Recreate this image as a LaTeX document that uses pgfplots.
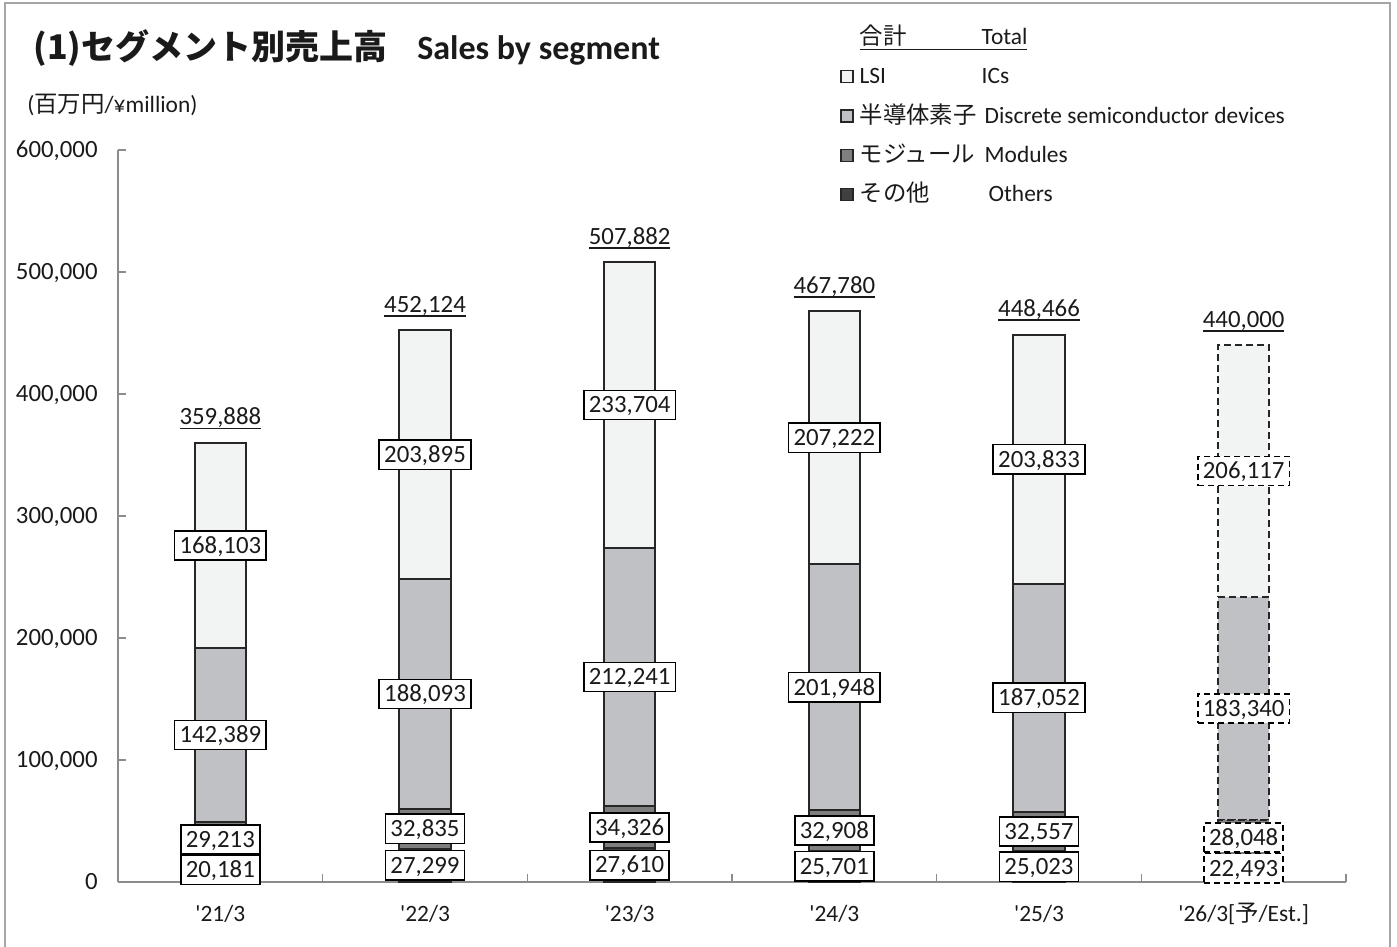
\documentclass[border=0pt]{standalone}
\usepackage{fontspec}
\setmainfont{Carlito}
\newfontfamily\jp{Noto Sans CJK JP}
\usepackage{pgfplots}
\usepackage{pgfplotstable}
\pgfplotsset{compat=1.18}

\definecolor{lsi}{HTML}{F2F3F3}
\definecolor{disc}{HTML}{C0C1C5}
\definecolor{modu}{HTML}{7F7F7F}
\definecolor{othr}{HTML}{404040}
\definecolor{edge}{HTML}{262626}
\definecolor{axisgray}{HTML}{8C8C8C}
\definecolor{framegray}{HTML}{A6A6A6}
\definecolor{txt}{HTML}{1A1A1A}

% values in million yen
\pgfplotstableread{
x others modules discrete lsi total
0 20181 29213 142389 168103 359888
1 27299 32835 188093 203895 452124
2 27610 34326 212241 233704 507882
3 25701 32908 201948 207222 467780
4 25023 32557 187052 203833 448466
}\actual
\pgfplotstableread{
x others modules discrete lsi total
5 22493 28048 183340 206117 440000
}\estimate

\newcommand{\q}{\textquotesingle}
\newcommand{\lab}{\fontsize{11.7}{14}\selectfont}
\newcommand{\num}{\fontsize{12.4}{14}\selectfont}
\newcommand{\ul}[1]{\setbox0\hbox{#1}\leavevmode\rlap{\rule[-2.2pt]{\wd0}{0.9pt}}\box0}

\pgfplotsset{
  frame/.style={
    scale only axis, width=614pt, height=366pt,
    xmin=-0.5, xmax=5.5, ymin=0, ymax=600000, clip=false,
  },
  stack/.style={ybar stacked, bar width=0.25},
  bars/.style={draw=edge, line width=1pt},
  est/.style={dash pattern=on 3.5pt off 2pt},
  seg/.style={
    draw=none, mark=none,
    point meta=explicit,
    nodes near coords={\pgfmathprintnumber[fixed,1000 sep={,},assume math mode=true]{\pgfplotspointmeta}},
    every node near coord/.style={anchor=center,
      fill=white, draw=black, line width=0.75pt,
      inner xsep=2.5pt, inner ysep=3.4pt, text height=7.8pt, text depth=0pt,
      font=\num, text=txt},
  },
  estseg/.style={seg,
    every node near coord/.append style={dash pattern=on 3pt off 2pt}},
  tot/.style={
    draw=none, mark=none,
    point meta=explicit,
    nodes near coords={\ul{\pgfmathprintnumber[fixed,1000 sep={,},assume math mode=true]{\pgfplotspointmeta}}},
    every node near coord/.style={anchor=base, inner sep=0pt, yshift=9pt,
      font=\num, text=txt},
  },
}

\begin{document}
\begin{tikzpicture}
\useasboundingbox (-59pt,-32.5pt) rectangle (639.5pt,441pt);

% main axis with solid bars
\begin{axis}[frame, stack,
  axis lines*=left,
  axis line style={axisgray, line width=0.75pt},
  tick align=inside,
  xtick={0,...,5},
  xticklabels={\q21/3, \q22/3, \q23/3, \q24/3, \q25/3, {\q26/3[{\jp 予}/Est.]}},
  minor xtick={-0.5,0.5,...,5.5},
  major x tick style={draw=none},
  minor x tick style={axisgray, line width=0.75pt},
  minor tick length=4pt,
  ytick={0,100000,200000,300000,400000,500000,600000},
  y tick style={axisgray, line width=0.75pt},
  major tick length=4pt,
  scaled y ticks=false,
  /pgf/number format/assume math mode=true,
  yticklabel style={/pgf/number format/fixed, /pgf/number format/1000 sep={,},
    font=\num, text=txt, anchor=base east, inner sep=0pt, xshift=-10pt, yshift=-3.9pt},
  xticklabel style={font=\lab, text=txt, anchor=base, inner sep=0pt, yshift=-19.75pt},
  legend style={at={(axis description cs:0.588,1.169)}, anchor=north west,
    draw=none, fill=none, inner sep=0pt, row sep=7.6pt, column sep=3pt,
    font=\lab, text=txt, nodes={inner sep=0pt, text height=9pt, text depth=3pt}},
  legend cell align=left,
  legend image code/.code={\draw[#1, draw=edge, line width=0.6pt] (0pt,-2.5pt) rectangle (6pt,3.5pt);},
]
\addplot[bars, fill=othr, forget plot] table[x=x, y=others]{\actual};
\addplot[bars, fill=modu, forget plot] table[x=x, y=modules]{\actual};
\addplot[bars, fill=disc, forget plot] table[x=x, y=discrete]{\actual};
\addplot[bars, fill=lsi, forget plot] table[x=x, y=lsi]{\actual};

\addlegendimage{empty legend}
\addlegendentry{\underline{\makebox[61pt][l]{\jp 合計}Total}}
\addlegendimage{fill=lsi}
\addlegendentry{\makebox[61pt][l]{LSI}ICs}
\addlegendimage{fill=disc}
\addlegendentry{\makebox[62.5pt][l]{\jp 半導体素子}Discrete semiconductor devices}
\addlegendimage{fill=modu}
\addlegendentry{\makebox[62.5pt][l]{\jp モジュール}Modules}
\addlegendimage{fill=othr}
\addlegendentry{\makebox[64.5pt][l]{\jp その他}Others}
\end{axis}

% estimate bar, dashed
\begin{axis}[frame, stack, hide axis]
\addplot[bars, est, fill=othr] table[x=x, y=others]{\estimate};
\addplot[bars, est, fill=modu] table[x=x, y=modules]{\estimate};
\addplot[bars, est, fill=disc] table[x=x, y=discrete]{\estimate};
\addplot[bars, est, fill=lsi] table[x=x, y=lsi]{\estimate};
\end{axis}

% value labels at the middle of each segment, totals on top
\begin{axis}[frame, hide axis]
\addplot[seg] table[x=x, y expr=\thisrow{others}/2, meta=others]{\actual};
\addplot[seg] table[x=x, y expr=\thisrow{others}+\thisrow{modules}/2, meta=modules]{\actual};
\addplot[seg] table[x=x, y expr=\thisrow{others}+\thisrow{modules}+\thisrow{discrete}/2, meta=discrete]{\actual};
\addplot[seg] table[x=x, y expr=\thisrow{others}+\thisrow{modules}+\thisrow{discrete}+\thisrow{lsi}/2, meta=lsi]{\actual};
\addplot[tot] table[x=x, y=total, meta=total]{\actual};
\addplot[estseg] table[x=x, y expr=\thisrow{others}/2, meta=others]{\estimate};
\addplot[estseg] table[x=x, y expr=\thisrow{others}+\thisrow{modules}/2, meta=modules]{\estimate};
\addplot[estseg] table[x=x, y expr=\thisrow{others}+\thisrow{modules}+\thisrow{discrete}/2, meta=discrete]{\estimate};
\addplot[estseg] table[x=x, y expr=\thisrow{others}+\thisrow{modules}+\thisrow{discrete}+\thisrow{lsi}/2, meta=lsi]{\estimate};
\addplot[tot] table[x=x, y=total, meta=total]{\estimate};
\end{axis}

% title, unit and outer frame
\node[anchor=base west, inner sep=0pt, text=txt] at (-42.5pt,411pt)
  {\fontsize{17}{20}\selectfont\bfseries{\jp (1)セグメント別売上高}\hspace{15pt}Sales by segment};
\node[anchor=west, inner sep=0pt, text=txt] at (-45.5pt,388.5pt)
  {\lab({\jp 百万円}/¥million)};
\draw[framegray, line width=1pt] (-56.5pt,-40pt) -- (-56.5pt,439.5pt) -- (636pt,439.5pt) -- (636pt,-40pt);
\end{tikzpicture}
\end{document}
